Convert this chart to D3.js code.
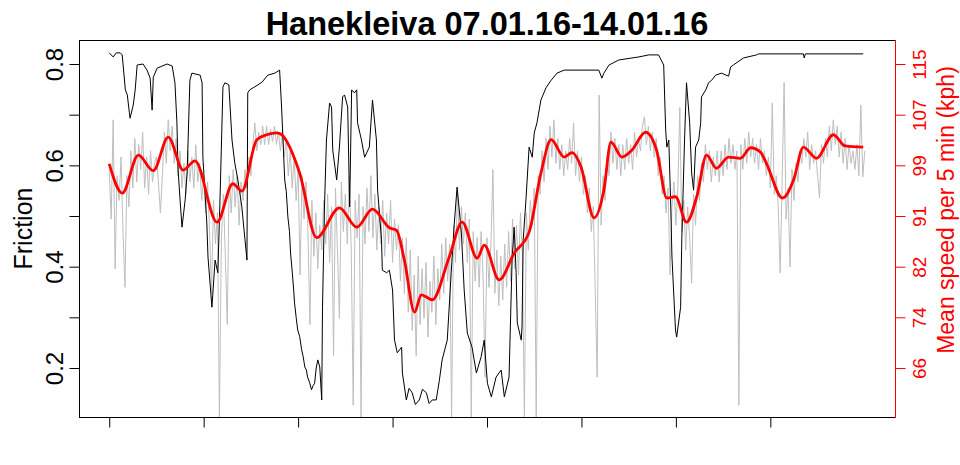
<!DOCTYPE html>
<html><head><meta charset="utf-8">
<script src="https://cdn.jsdelivr.net/npm/d3@7"></script>
<style>body{margin:0;background:#fff}svg{display:block}</style>
</head><body>
<svg id="c" width="960" height="465"></svg>
<script>
const chartTitle = "Hanekleiva 07.01.16-14.01.16";
const leftTitle = "Friction";
const rightTitle = "Mean speed per 5 min (kph)";
// hours since 07.01.16 00:00
const dayTicks = [0, 24, 48, 72, 96, 120, 144, 168];
const frictionTicks = [0.2, 0.3, 0.4, 0.5, 0.6, 0.7, 0.8];
const frictionTickLabels = ["0.2", "", "0.4", "", "0.6", "", "0.8"];
const speedTicks = [66, 74.17, 82.33, 90.5, 98.67, 106.83, 115];
const speedTickLabels = ["66", "74", "82", "91", "99", "107", "115"];

// friction readings: [hour, friction]
const frictionReadings = [[0,.822],[1,.814],[1.8,.822],[2.8,.822],[3.3,.818],[4.1,.749],[4.6,.739],[5.1,.705],[5.3,.693],[6.1,.719],[6.6,.749],[7.1,.798],[8.6,.800],[9.6,.788],[10.4,.772],[10.9,.709],[11.2,.774],[12.2,.792],[14.7,.800],[16,.796],[16.7,.763],[17.2,.684],[17.5,.591],[18,.532],[18.5,.478],[19.3,.532],[19.8,.585],[20.5,.768],[21,.782],[23.1,.778],[23.6,.763],[23.8,.616],[24.8,.486],[25.1,.419],[26.1,.320],[26.9,.413],[27.6,.388],[28.1,.518],[28.9,.755],[29.4,.763],[30.4,.759],[31.2,.650],[31.9,.605],[32.7,.571],[33.7,.518],[34.5,.453],[35,.413],[35.2,.743],[35.7,.749],[37,.755],[38.8,.764],[40.3,.778],[42.1,.782],[43.3,.788],[43.8,.715],[44.6,.571],[45,.548],[45.4,.498],[45.8,.470],[46.1,.425],[46.4,.399],[46.8,.362],[47.1,.328],[47.5,.300],[47.9,.275],[48.4,.262],[48.9,.236],[49.3,.222],[49.7,.202],[50.1,.196],[50.4,.182],[50.9,.172],[51.4,.157],[51.8,.165],[52.2,.170],[52.6,.200],[53,.216],[53.5,.202],[54,.137],[54.2,.320],[54.7,.518],[55.2,.650],[56,.723],[56.5,.715],[56.8,.630],[57.8,.571],[58.5,.636],[59.3,.735],[59.8,.739],[60.6,.715],[61.1,.518],[61.6,.749],[62.3,.743],[62.9,.749],[63.1,.684],[64.1,.650],[64.9,.616],[66.1,.636],[66.9,.729],[67.9,.650],[68.2,.551],[69.2,.453],[69.4,.393],[70.5,.388],[71.2,.393],[72,.354],[72.5,.255],[73.2,.230],[74.3,.241],[74.5,.190],[75.5,.137],[76.2,.160],[77,.151],[77.8,.128],[78.8,.137],[79.6,.158],[80.6,.151],[81.3,.130],[82.1,.137],[83.1,.137],[83.9,.176],[84.6,.216],[85.9,.255],[86.9,.388],[87.7,.486],[88.4,.557],[89.5,.466],[90.2,.354],[91,.269],[92.2,.241],[93.3,.190],[94.5,.222],[95.3,.255],[96.1,.170],[97.1,.143],[98.3,.182],[99.6,.196],[100.4,.143],[101.6,.182],[102.4,.419],[102.9,.478],[103.4,.388],[103.7,.289],[104.7,.255],[104.9,.281],[105.2,.453],[105.9,.532],[106.7,.636],[107.5,.616],[108,.664],[108.7,.684],[109.7,.729],[111,.753],[112.3,.768],[113.8,.782],[115.6,.788],[124.4,.788],[125.2,.772],[125.7,.782],[127,.798],[129.5,.808],[134.6,.814],[137.1,.818],[139.6,.818],[140.9,.798],[141.4,.670],[141.7,.636],[142.2,.650],[142.7,.518],[143,.419],[143.9,.275],[144.2,.261],[145.2,.320],[145.5,.453],[146.2,.650],[146.7,.763],[147.5,.684],[148,.585],[148.5,.551],[149,.636],[149.8,.650],[150.3,.684],[150.5,.735],[151.6,.749],[152.3,.763],[153.1,.768],[154.1,.778],[155.6,.782],[157.4,.776],[157.9,.794],[158.6,.798],[161.2,.812],[164.5,.818],[165,.820],[176.4,.820],[176.6,.812],[176.9,.820],[191.6,.820]];

// raw mean speed (kph), one value every half hour from hour 0
const speedStepHours = 0.5;
const speedRaw = [
98,90,106,82,97,93,100,88,79,97,
92,101,95,103,96,102,98,104,95,100,
94,101,96,99,100,96,91,97,104,99,
106,101,105,99,103,97,101,95,99,94,
101,96,100,95,102,96,99,93,97,91,
96,88,78,93,86,91,58,87,94,84,
73,97,91,98,92,97,89,96,93,98,
95,100,97,102,105.5,101,104,102,105,102,
105,102,104.5,102.5,105,102,104,101,104,100,
103,97,101,95,100,93,98,81,97,90,
96,88,73,93,84,91,82,89,85,93,
86,94,83,92,68,95,85,74,96,88,
94,86,97,85,60,93,87,94,58,92,
86,95,88,97,87,94,85,92,86,93,
84,91,86,93,83,90,85,89,80,87,
78,87,75,85,72,81,68,84,73,82,
74,83,71,80,75,84,73,82,77,86,
78,87,80,86,58,89,83,95,85,92,
86,91,83,90,58,88,80,87,79,88,
81,64.5,87,79,86,98,78,85,76,84,
77,86,79,88,80,90,82,89,81,91,
84,58,91,85,93,89,95,58,97,94,
101,96,103,98,105,100,106,99,103,98,
102,97,101,98,103,99,105.5,97,101,96,
100,94,97,91,95,88,92,78.6,64.5,110,
89,97,93,100,97,104,99,103,98,102,
97,102,98,103,99,102,98,104,100,103,
101,105,106.5,102,105,101,104,100,103,97,
100,94,97,91,95,81,92,96,89,95,
108,88,93,85,92,87,79.7,94,89,97,
93,99,96,102,98,101,96,100,97,101,
96,101,97,102,98,103,99,102,98,101,
60,102,98,103,99,104,100,103,99,102,
98,103,99,101,97,100,95,108.7,94,97,
92,81.3,96,112,90,95,82.3,98,93,99,
96,101,99,103,100,104,98,102,99,101,
97,93.4,102,99,103,100,105,101,106,102,
105,100,104,99,103,98,102,99,101,98,
102,97,108.4,96.8,101];

// smoothed speed: [hour, kph]
const speedSmooth = [[0,98.9],[3.3,94.2],[7.4,100.3],[11.2,97.8],[15,103.2],[18.8,97.9],[21.8,99.4],[27.4,89.5],[31.4,95.7],[33.7,94.5],[37.5,102.8],[40,103.6],[42.6,103.9],[43.8,103.6],[48.4,97.4],[52.7,87.0],[58.5,91.8],[62.9,88.7],[66.9,91.6],[71.2,88.6],[73,88.2],[75,83.4],[77.6,75.0],[79.3,77.8],[82.1,77.0],[86.4,83.9],[89.7,89.5],[93.5,83.7],[95.3,85.8],[99.1,80.2],[102.9,84.5],[106.7,87.9],[109.7,97.4],[112.3,102.8],[115.6,100.0],[117.6,100.7],[119.9,98.4],[123.2,90.2],[125.7,94.7],[127.5,102.4],[130.3,100.0],[132.8,101.1],[136.3,104.0],[139.1,101.1],[141.7,93.4],[143.9,93.6],[146.7,89.5],[149.3,93.6],[151.8,100.3],[154.3,98.2],[157.4,100.0],[160.4,99.8],[163,101.5],[165.5,100.8],[167,99.0],[171.1,93.4],[173.9,96.3],[176.4,101.6],[179.7,99.8],[184,103.6],[187,101.8],[191.6,101.6]];

const FONT = "'Liberation Sans', Arial, Helvetica, sans-serif";
const svg = d3.select("#c");
const L = 79, R = 895, T = 40, B = 417;

const x = d3.scaleLinear().domain([-7.68, 199.68]).range([L, R]);
const yF = d3.scaleLinear().domain([0.1033, 0.8474]).range([B, T]);
const yS = d3.scaleLinear().domain([58.1, 118.87]).range([B, T]);

const plot = svg.append("g");
// raw speed (grey)
plot.append("path")
  .datum(speedRaw)
  .attr("fill", "none").attr("stroke", "#bebebe").attr("stroke-width", 1)
  .attr("d", d3.line().x((d, i) => x(i * speedStepHours)).y(d => yS(d)));
// friction (black)
plot.append("path")
  .datum(frictionReadings)
  .attr("fill", "none").attr("stroke", "#000").attr("stroke-width", 1)
  .attr("d", d3.line().x(d => x(d[0])).y(d => yF(d[1])));
// smoothed speed (red)
plot.append("path")
  .datum(speedSmooth)
  .attr("fill", "none").attr("stroke", "#ff0000").attr("stroke-width", 2.8)
  .attr("stroke-linejoin", "round")
  .attr("d", d3.line().curve(d3.curveMonotoneX).x(d => x(d[0])).y(d => yS(d[1])));

// box
svg.append("rect").attr("x", L + 0.5).attr("y", T + 0.5).attr("width", R - L).attr("height", B - T)
  .attr("fill", "none").attr("stroke", "#000").attr("stroke-width", 1);

// bottom axis
const gx = svg.append("g").attr("transform", `translate(0,${B + 0.5})`)
  .call(d3.axisBottom(x).tickValues(dayTicks).tickFormat("").tickSize(10).tickSizeOuter(0));
gx.select(".domain").remove();
gx.selectAll(".tick line").attr("stroke", "#000");

// left axis
const gl = svg.append("g").attr("transform", `translate(${L + 0.5},0)`)
  .call(d3.axisLeft(yF).tickValues(frictionTicks).tickFormat((d, i) => frictionTickLabels[i]).tickSize(10));
gl.select(".domain").remove();
gl.selectAll(".tick line").attr("stroke", "#000");
gl.selectAll(".tick text")
  .attr("transform", "rotate(-90)").attr("x", 0).attr("y", -17).attr("dy", null)
  .attr("text-anchor", "middle").attr("fill", "#000")
  .style("font-family", FONT).style("font-size", "24px");

// right axis
const gr = svg.append("g").attr("transform", `translate(${R + 0.5},0)`)
  .call(d3.axisRight(yS).tickValues(speedTicks).tickFormat((d, i) => speedTickLabels[i]).tickSize(10));
gr.select(".domain").remove();
gr.selectAll(".tick line").attr("stroke", "#ff0000");
gr.selectAll(".tick text")
  .attr("transform", "rotate(-90)").attr("x", 0).attr("y", 30).attr("dy", null)
  .attr("text-anchor", "middle").attr("fill", "#ff0000")
  .style("font-family", FONT).style("font-size", "19px");
svg.append("line").attr("x1", R + 0.5).attr("x2", R + 0.5).attr("y1", T).attr("y2", B + 1)
  .attr("stroke", "#ff0000").attr("stroke-width", 1);

// titles
svg.append("text").attr("x", (L + R) / 2).attr("y", 35).attr("text-anchor", "middle")
  .style("font-family", FONT).style("font-size", "32.5px").style("font-weight", "bold")
  .text(chartTitle);
svg.append("text").attr("transform", `translate(32,${(T + B) / 2}) rotate(-90)`)
  .attr("text-anchor", "middle").style("font-family", FONT).style("font-size", "25px")
  .text(leftTitle);
svg.append("text").attr("transform", `translate(954,210) rotate(-90)`)
  .attr("text-anchor", "middle").attr("fill", "#ff0000").style("font-family", FONT).style("font-size", "23px")
  .text(rightTitle);
</script>
</body></html>
